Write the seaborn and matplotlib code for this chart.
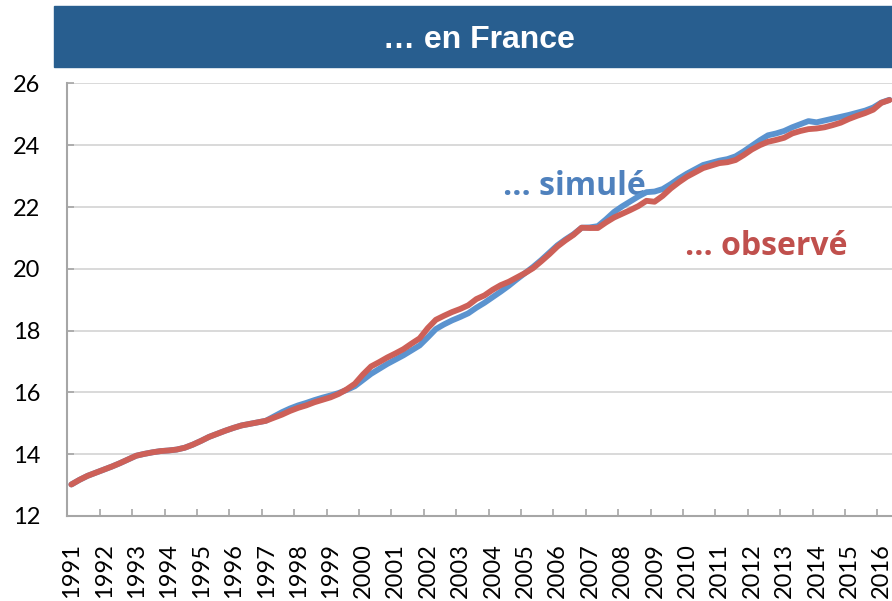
import numpy as np
import pandas as pd
import matplotlib
matplotlib.use("Agg")
import matplotlib.pyplot as plt
import seaborn as sns
from matplotlib.patches import Rectangle

# ---------------- data (quarterly, 1991T1 - 2016T2) ----------------
years = list(range(1991, 2017))
observe = [13.02, 13.17, 13.30, 13.40, 13.50, 13.60, 13.71, 13.83,
           13.95, 14.01, 14.06, 14.10, 14.12, 14.15, 14.21, 14.31,
           14.43, 14.56, 14.66, 14.76, 14.85, 14.93, 14.98, 15.03,
           15.08, 15.18, 15.28, 15.40, 15.50, 15.58, 15.68, 15.76,
           15.84, 15.95, 16.10, 16.28, 16.58, 16.84, 16.98, 17.13,
           17.26, 17.40, 17.58, 17.75, 18.08, 18.35, 18.48, 18.60,
           18.70, 18.82, 19.02, 19.14, 19.32, 19.47, 19.58, 19.72,
           19.86, 20.02, 20.24, 20.47, 20.72, 20.92, 21.10, 21.33,
           21.32, 21.32, 21.50, 21.66, 21.78, 21.90, 22.03, 22.20,
           22.17, 22.36, 22.60, 22.80, 22.98, 23.12, 23.26, 23.34,
           23.42, 23.45, 23.52, 23.68, 23.86, 24.00, 24.11, 24.17,
           24.24, 24.38, 24.46, 24.52, 24.54, 24.58, 24.65, 24.73,
           24.85, 24.95, 25.04, 25.15, 25.37, 25.46]
simule = [13.02, 13.17, 13.30, 13.40, 13.50, 13.60, 13.71, 13.83,
          13.95, 14.01, 14.06, 14.10, 14.12, 14.15, 14.21, 14.31,
          14.43, 14.56, 14.66, 14.76, 14.85, 14.93, 14.98, 15.03,
          15.08, 15.22, 15.36, 15.48, 15.58, 15.66, 15.75, 15.83,
          15.90, 15.98, 16.08, 16.20, 16.40, 16.60, 16.76, 16.92,
          17.06, 17.20, 17.36, 17.52, 17.78, 18.05, 18.20, 18.33,
          18.44, 18.56, 18.74, 18.90, 19.08, 19.26, 19.45, 19.66,
          19.86, 20.06, 20.28, 20.52, 20.76, 20.95, 21.12, 21.33,
          21.34, 21.38, 21.60, 21.84, 22.02, 22.18, 22.34, 22.48,
          22.50, 22.58, 22.74, 22.92, 23.08, 23.22, 23.36, 23.43,
          23.50, 23.55, 23.64, 23.80, 23.98, 24.16, 24.32, 24.38,
          24.46, 24.58, 24.68, 24.78, 24.74, 24.80, 24.86, 24.92,
          24.98, 25.05, 25.12, 25.22, 25.38, 25.47]
y_ticks = [12, 14, 16, 18, 20, 22, 24, 26]
title = "… en France"
label_sim = "... simulé"
label_obs = "... observé"

BLUE = "#5b93cf"
RED = "#cd6058"
BLUE_TXT = "#4f81bd"
RED_TXT = "#c0504d"
BANNER = "#285e8f"
GRAY = "#a6a6a6"

sns.set_theme(style="white")
plt.rcParams['font.family'] = ['Lato', 'DejaVu Sans']

W, H = 892, 601
fig = plt.figure(figsize=(W / 100, H / 100), dpi=100)
ax = fig.add_axes([67.3 / W, (H - 516) / H, 826.2 / W, 432.6 / H])

n = len(observe)
df = pd.DataFrame({"t": np.arange(n), "simulé": simule, "observé": observe})
long = df.melt(id_vars="t", var_name="serie", value_name="val")
sns.lineplot(data=long, x="t", y="val", hue="serie",
             hue_order=["simulé", "observé"], palette=[BLUE, RED],
             linewidth=4.2, legend=False, ax=ax)
for ln in ax.lines:
    ln.set_solid_capstyle("round")
    ln.set_solid_joinstyle("round")

ax.set_xlabel("")
ax.set_ylabel("")

# y axis
ax.set_yticks(y_ticks)
ax.set_yticklabels([str(v) for v in y_ticks])
ax.tick_params(axis="y", direction="in", length=5, width=1.2, color=GRAY,
               pad=19.4, labelsize=17, labelcolor="black", left=True)
ax.yaxis.grid(True, color="#d9d9d9", linewidth=1.4)
ax.xaxis.grid(False)
ax.set_axisbelow(True)

# x axis: labels at first quarter of each year, tick marks between years
ax.set_xticks([4 * k + 0.05 for k in range(len(years))])
ax.set_xticklabels([str(y) for y in years], rotation=90)
ax.set_xticks([4 * k - 0.5 for k in range(1, len(years))], minor=True)
ax.tick_params(axis="x", which="major", length=0, pad=19.4, labelsize=17,
               labelcolor="black")
ax.tick_params(axis="x", which="minor", direction="in", length=5, width=1.2,
               color=GRAY, bottom=True)

# limits last (set_xticks may expand the view)
ax.set_xlim(-0.5, n - 0.5)
ax.set_ylim(12, 26)

for s in ["top", "right"]:
    ax.spines[s].set_visible(False)
for s in ["left", "bottom"]:
    ax.spines[s].set_color(GRAY)
    ax.spines[s].set_linewidth(1.5)

# annotations
ann_font = ["Open Sans", "DejaVu Sans"]
ax.text(0.527, 0.742, label_sim, transform=ax.transAxes, color=BLUE_TXT,
        fontsize=23, fontweight="bold", va="baseline", ha="left", zorder=1.5,
        family=ann_font)
ax.text(0.7475, 0.603, label_obs, transform=ax.transAxes, color=RED_TXT,
        fontsize=23, fontweight="bold", va="baseline", ha="left", zorder=1.5,
        family=ann_font)

# title banner
fig.patches.append(Rectangle((54 / W, (H - 67) / H), (W - 54) / W, 61 / H,
                             transform=fig.transFigure, color=BANNER,
                             zorder=0))
fig.text(478.5 / W, (H - 48.3) / H, title, ha="center", va="baseline",
         color="white", fontsize=23, fontweight="bold",
         family=["Liberation Sans", "DejaVu Sans"])

fig.savefig("out.png", dpi=100)
